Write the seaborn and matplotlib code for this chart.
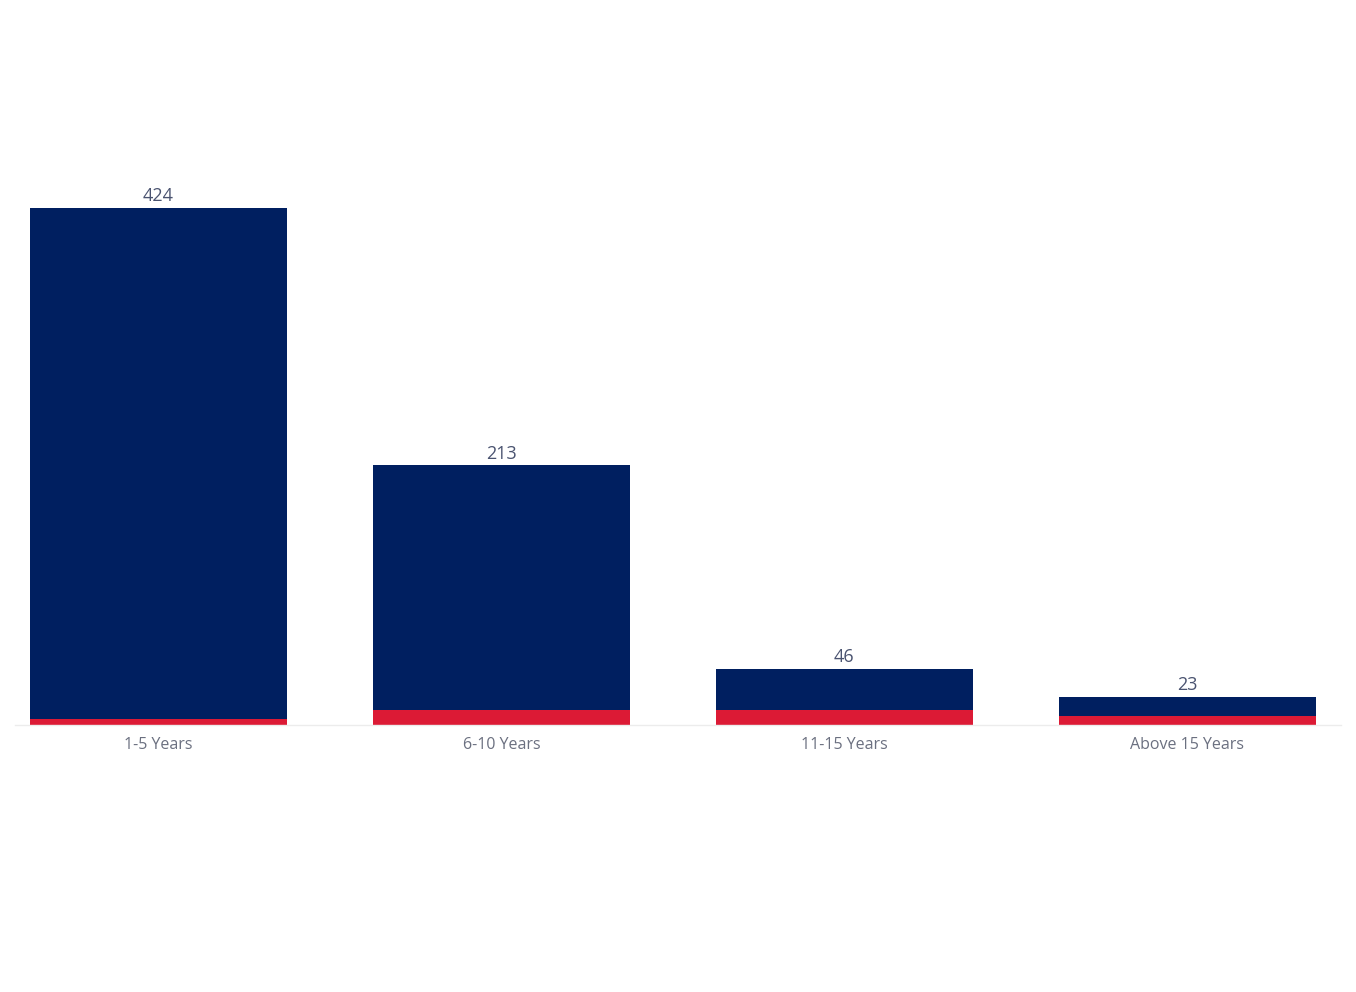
import matplotlib
matplotlib.use("Agg")
import matplotlib.pyplot as plt
import seaborn as sns
import pandas as pd

categories = ["1-5 Years", "6-10 Years", "11-15 Years", "Above 15 Years"]
totals = [424, 213, 46, 23]
red_part = [5, 12, 12, 7]

df = pd.DataFrame({"group": categories, "total": totals, "red": red_part})

sns.set_style("white")
plt.rcParams["font.family"] = ["Open Sans", "DejaVu Sans"]

fig = plt.figure(figsize=(13.56, 9.92), dpi=100)
ax = fig.add_axes([0.011, 0.2695, 0.978, 0.63])

sns.barplot(data=df, x="group", y="total", color="#001f60", width=0.75,
            saturation=1, ax=ax, linewidth=0)
sns.barplot(data=df, x="group", y="red", color="#dc1a35", width=0.75,
            saturation=1, ax=ax, linewidth=0)

for i, v in enumerate(totals):
    ax.text(i, v + 2, str(v), ha="center", va="bottom", fontsize=13,
            color="#4a5370")

ax.set_xlim(-0.418, 3.448)
ax.set_ylim(0, 512.6)
ax.set_xlabel("")
ax.set_ylabel("")
ax.set_yticks([])
ax.tick_params(axis="x", which="major", length=0, pad=9, labelsize=11.5,
               labelcolor="#6b7080")
ax.set_xticks([0.5, 1.5, 2.5], minor=True)
ax.tick_params(axis="x", which="minor", length=6, color="#ececec", width=1)
for side in ["top", "right", "left"]:
    ax.spines[side].set_visible(False)
ax.spines["bottom"].set_color("#ececec")
ax.spines["bottom"].set_linewidth(1)

fig.savefig("out.png", dpi=100, facecolor="white")
